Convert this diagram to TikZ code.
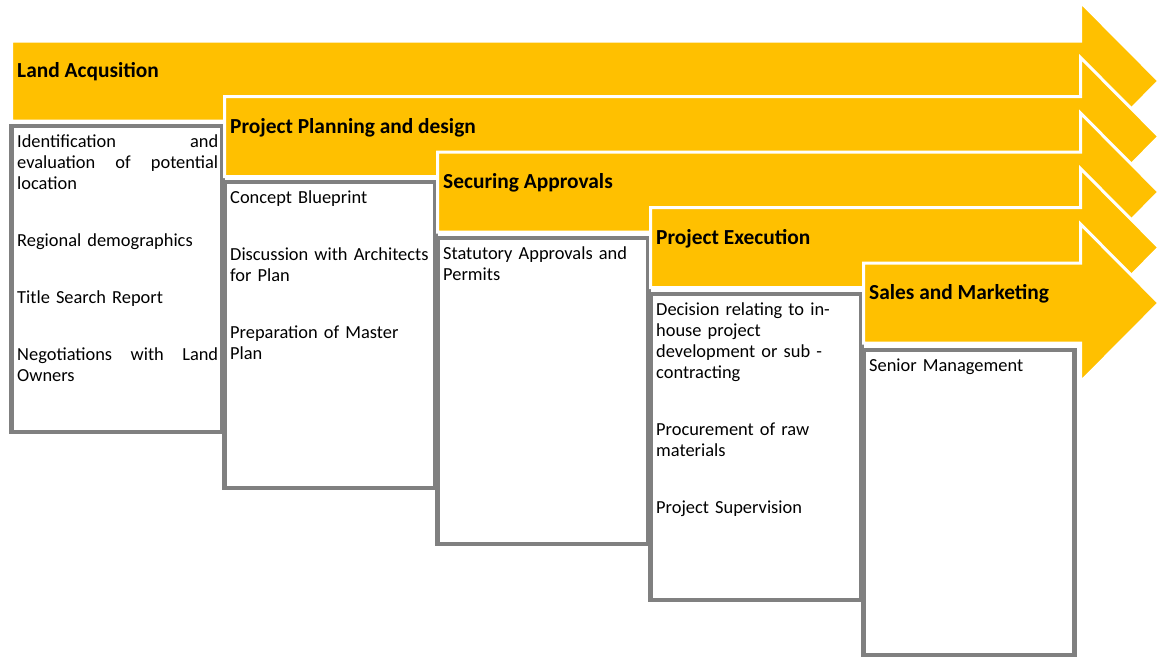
\documentclass[tikz,border=0pt]{standalone}
\usepackage{fontspec}
\setmainfont{Carlito}
\usepackage{tikz}
\usetikzlibrary{positioning}

\definecolor{stagegold}{HTML}{FFC000}
\definecolor{panelgray}{HTML}{808080}

\begin{document}
\begin{tikzpicture}[x=1pt,y=-1pt,
   stage/.style={fill=stagegold, draw=white, line width=3pt, line join=miter},
   title/.style={anchor=base west, inner sep=0pt, font=\fontsize{21.4}{25}\selectfont\bfseries},
   panel/.style={draw=panelgray, fill=white, line width=4.5pt, outer sep=0pt, inner sep=0pt,
                 minimum width=211pt, minimum height=306pt, anchor=north west},
   items/.style={anchor=north west, inner sep=0pt, text width=201pt, align=left,
                 font=\fontsize{18.4}{21}\selectfont}]
   \useasboundingbox (0,0) rectangle (1158,657);

   % stage 1
   \filldraw[stage] (11.5,41) -- (1080.5,41) -- (1080.5,2) -- (1159,81)
      -- (1080.5,160) -- (1080.5,121) -- (11.5,121) -- cycle;
   \node[title] (land) at (17,77) {Land Acqusition};
   \node[panel] (landbox) at (11.5,126) {};
   \node[items] (landlist) at ([shift={(5.5,9)}]landbox.north west)
      {\makebox[201pt][s]{Identification\hfill and}\\
       \makebox[201pt][s]{evaluation\hfill of\hfill potential}\\
       location\\[36pt]
       Regional demographics\\[36pt]
       Title Search Report\\[36pt]
       \makebox[201pt][s]{Negotiations\hfill with\hfill Land}\\
       Owners};

   % stage 2
   \filldraw[stage] (224.5,96.5) -- (1080.5,96.5) -- (1080.5,57.5) -- (1159,136.5)
      -- (1080.5,215.5) -- (1080.5,176.5) -- (224.5,176.5) -- cycle;
   \node[title] (plan) at (230,133) {Project Planning and design};
   \node[panel] (planbox) at (224.5,182) {};
   \node[items] (planlist) at ([shift={(5.5,9)}]planbox.north west)
      {Concept Blueprint\\[36pt]
       Discussion with Architects\\
       for Plan\\[36pt]
       Preparation of Master\\
       Plan};

   % stage 3
   \filldraw[stage] (437.5,152) -- (1080.5,152) -- (1080.5,113) -- (1159,192)
      -- (1080.5,271) -- (1080.5,232) -- (437.5,232) -- cycle;
   \node[title] (approve) at (443,188.5) {Securing Approvals};
   \node[panel] (approvebox) at (437.5,238) {};
   \node[items] (approvelist) at ([shift={(5.5,9)}]approvebox.north west)
      {Statutory Approvals and\\
       Permits};

   % stage 4
   \filldraw[stage] (650.5,207.5) -- (1080.5,207.5) -- (1080.5,168.5) -- (1159,247.5)
      -- (1080.5,326.5) -- (1080.5,287.5) -- (650.5,287.5) -- cycle;
   \node[title] (exec) at (656,244) {Project Execution};
   \node[panel] (execbox) at (650.5,294) {};
   \node[items] (execlist) at ([shift={(5.5,9)}]execbox.north west)
      {Decision relating to in-\\
       house project\\
       development or sub -\\
       contracting\\[36pt]
       Procurement of raw\\
       materials\\[36pt]
       Project Supervision};

   % stage 5
   \filldraw[stage] (863.5,263) -- (1080.5,263) -- (1080.5,224) -- (1159,303)
      -- (1080.5,382) -- (1080.5,343) -- (863.5,343) -- cycle;
   \node[title] (sales) at (869,299.5) {Sales and Marketing};
   \node[panel, minimum height=305pt] (salesbox) at (863.5,350) {};
   \node[items] (saleslist) at ([shift={(5.5,9)}]salesbox.north west)
      {Senior Management};
\end{tikzpicture}
\end{document}
